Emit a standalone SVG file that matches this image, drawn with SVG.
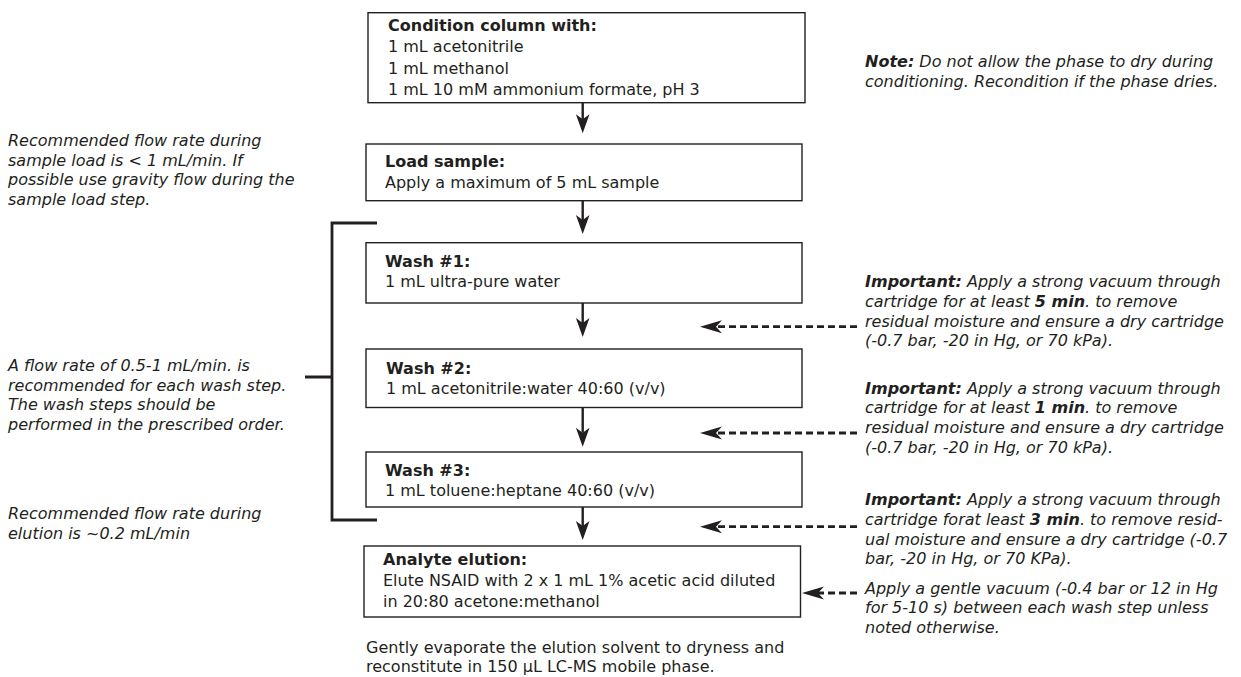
<svg xmlns="http://www.w3.org/2000/svg" width="1241" height="677" viewBox="0 0 1241 677">
<style>
.t{font-family:"DejaVu Sans",Verdana,sans-serif;font-size:16px;fill:#231f20}
.b{font-weight:bold}
.i{font-style:italic}
.box{fill:#fff;stroke:#231f20;stroke-width:1.4}
.ln{stroke:#231f20;stroke-width:2.4;fill:none}
.br{stroke:#231f20;stroke-width:2.8;fill:none}
.dash{stroke:#231f20;stroke-width:2.8;stroke-dasharray:7 4;fill:none}
</style>
<defs>
<marker id="ah" viewBox="-6 -8 22 16" refX="0" refY="0" markerWidth="22" markerHeight="16" markerUnits="userSpaceOnUse" orient="auto">
<path d="M14,0 L-5,-6.8 L0,0 L-5,6.8 Z" fill="#231f20"/>
</marker>
<marker id="ahd" viewBox="-7 -8 25 16" refX="0" refY="0" markerWidth="25" markerHeight="16" markerUnits="userSpaceOnUse" orient="auto">
<path d="M16,0 L-6,-6.5 L0,0 L-6,6.5 Z" fill="#231f20"/>
</marker>
</defs>
<rect width="1241" height="677" fill="#fff"/>

<g id="connectors">
<path class="ln" d="M582.7,102.7 V119.3" marker-end="url(#ah)"/>
<path class="ln" d="M582.7,200.7 V220" marker-end="url(#ah)"/>
<path class="ln" d="M582.7,303 V323" marker-end="url(#ah)"/>
<path class="ln" d="M582.7,407.5 V432.7" marker-end="url(#ah)"/>
<path class="ln" d="M582.7,507 V526" marker-end="url(#ah)"/>
<path class="dash" d="M857,326.7 H716" marker-end="url(#ahd)"/>
<path class="dash" d="M857,433 H716" marker-end="url(#ahd)"/>
<path class="dash" d="M857,526.7 H716" marker-end="url(#ahd)"/>
<path class="dash" d="M857,593 H818" marker-end="url(#ahd)"/>
<path class="br" d="M377,223 H332 V520 H377 M305,377 H332"/>
</g>

<g id="condition">
<rect class="box" x="368" y="12.7" width="437" height="90"/>
<text class="t"><tspan class="b" x="388" y="30.5">Condition column with:</tspan><tspan x="388" y="52">1 mL acetonitrile</tspan><tspan x="388" y="73.5">1 mL methanol</tspan><tspan x="388" y="95">1 mL 10 mM ammonium formate, pH 3</tspan></text>
</g>

<g id="load">
<rect class="box" x="366" y="144" width="436" height="56.7"/>
<text class="t"><tspan class="b" x="385" y="167">Load sample:</tspan><tspan x="385" y="188">Apply a maximum of 5 mL sample</tspan></text>
</g>

<g id="wash1">
<rect class="box" x="366" y="242.7" width="436" height="60.3"/>
<text class="t"><tspan class="b" x="385" y="267">Wash #1:</tspan><tspan x="385" y="287">1 mL ultra-pure water</tspan></text>
</g>

<g id="wash2">
<rect class="box" x="366" y="349" width="436" height="58.5"/>
<text class="t"><tspan class="b" x="386" y="374">Wash #2:</tspan><tspan x="386" y="394">1 mL acetonitrile:water 40:60 (v/v)</tspan></text>
</g>

<g id="wash3">
<rect class="box" x="366" y="452" width="436" height="55"/>
<text class="t"><tspan class="b" x="385" y="476">Wash #3:</tspan><tspan x="385" y="495.5">1 mL toluene:heptane 40:60 (v/v)</tspan></text>
</g>

<g id="elution">
<rect class="box" x="364" y="546" width="436.5" height="71"/>
<text class="t"><tspan class="b" x="383" y="565">Analyte elution:</tspan><tspan x="383" y="586">Elute NSAID with 2 x 1 mL 1% acetic acid diluted</tspan><tspan x="383" y="607">in 20:80 acetone:methanol</tspan></text>
</g>

<g id="footer">
<text class="t"><tspan x="366" y="653">Gently evaporate the elution solvent to dryness and</tspan><tspan x="366" y="672">reconstitute in 150 µL LC-MS mobile phase.</tspan></text>
</g>

<g id="note-left-load">
<text class="t i"><tspan x="8" y="146">Recommended flow rate during</tspan><tspan x="8" y="165.7">sample load is &lt; 1 mL/min. If</tspan><tspan x="8" y="185.4">possible use gravity flow during the</tspan><tspan x="8" y="205.1">sample load step.</tspan></text>
</g>

<g id="note-left-wash">
<text class="t i"><tspan x="8" y="371">A flow rate of 0.5-1 mL/min. is</tspan><tspan x="8" y="390.7">recommended for each wash step.</tspan><tspan x="8" y="410.4">The wash steps should be</tspan><tspan x="8" y="430.1">performed in the prescribed order.</tspan></text>
</g>

<g id="note-left-elution">
<text class="t i"><tspan x="8" y="519">Recommended flow rate during</tspan><tspan x="8" y="538.7">elution is ~0.2 mL/min</tspan></text>
</g>

<g id="note-right-condition">
<text class="t i"><tspan x="865" y="67"><tspan class="b">Note:</tspan> Do not allow the phase to dry during</tspan><tspan x="865" y="86.5">conditioning. Recondition if the phase dries.</tspan></text>
</g>

<g id="note-right-wash1">
<text class="t i"><tspan x="865" y="287.3"><tspan class="b">Important:</tspan> Apply a strong vacuum through</tspan><tspan x="865" y="307">cartridge for at least <tspan class="b">5 min</tspan>. to remove</tspan><tspan x="865" y="326.7">residual moisture and ensure a dry cartridge</tspan><tspan x="865" y="346.4">(-0.7 bar, -20 in Hg, or 70 kPa).</tspan></text>
</g>

<g id="note-right-wash2">
<text class="t i"><tspan x="865" y="393.6"><tspan class="b">Important:</tspan> Apply a strong vacuum through</tspan><tspan x="865" y="413.3">cartridge for at least <tspan class="b">1 min</tspan>. to remove</tspan><tspan x="865" y="433">residual moisture and ensure a dry cartridge</tspan><tspan x="865" y="452.7">(-0.7 bar, -20 in Hg, or 70 kPa).</tspan></text>
</g>

<g id="note-right-wash3">
<text class="t i"><tspan x="865" y="505.3"><tspan class="b">Important:</tspan> Apply a strong vacuum through</tspan><tspan x="865" y="525">cartridge forat least <tspan class="b">3 min</tspan>. to remove resid-</tspan><tspan x="865" y="544.7">ual moisture and ensure a dry cartridge (-0.7</tspan><tspan x="865" y="564.4">bar, -20 in Hg, or 70 KPa).</tspan></text>
</g>

<g id="note-right-elution">
<text class="t i"><tspan x="865" y="593.5">Apply a gentle vacuum (-0.4 bar or 12 in Hg</tspan><tspan x="865" y="613.2">for 5-10 s) between each wash step unless</tspan><tspan x="865" y="632.9">noted otherwise.</tspan></text>
</g>
</svg>
